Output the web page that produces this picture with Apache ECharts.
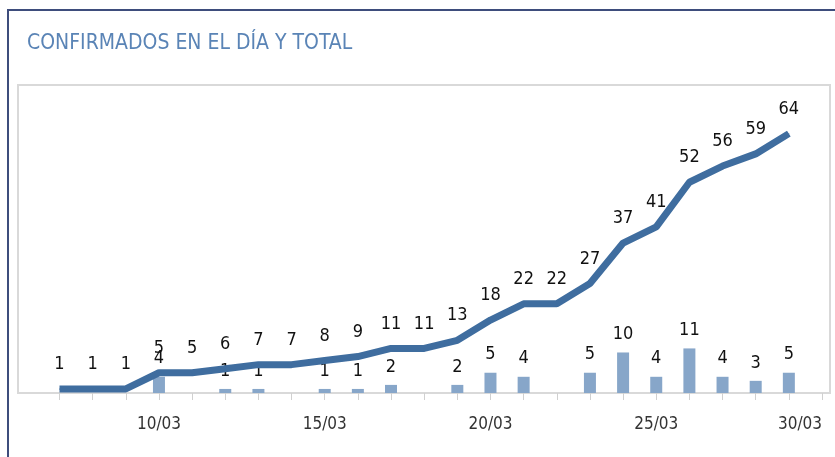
<!DOCTYPE html>
<html>
<head>
<meta charset="utf-8">
<script src="https://cdn.jsdelivr.net/npm/echarts@6/dist/echarts.min.js"></script>
<style>
  html, body { margin: 0; padding: 0; background: #fff; }
  #chart { width: 835px; height: 457px; }
</style>
</head>
<body>
<div id="chart"></div>
<script>
// dias 07/03 .. 30/03
const dias = ['07/03', '08/03', '09/03', '10/03', '11/03', '12/03', '13/03', '14/03', '15/03',
  '16/03', '17/03', '18/03', '19/03', '20/03', '21/03', '22/03', '23/03', '24/03', '25/03',
  '26/03', '27/03', '28/03', '29/03', '30/03'];
const total = [1, 1, 1, 5, 5, 6, 7, 7, 8, 9, 11, 11, 13, 18, 22, 22, 27, 37, 41, 52, 56, 59, 64, null];
const enElDia = [null, null, null, 4, null, 1, 1, null, 1, 1, 2, null, 2, 5, 4, null, 5, 10, 4, 11, 4, 3, 5, null];

const fuente = '"DejaVu Sans Condensed", sans-serif';

let instance = echarts.init(document.getElementById('chart'));
instance.setOption({
    animation: false,
    title: {
        text: 'CONFIRMADOS EN EL DÍA Y TOTAL',
        left: 22,
        top: 28,
        textStyle: {
            color: '#5a84b6',
            fontFamily: fuente,
            fontWeight: 'normal',
            fontSize: 21
        }
    },
    graphic: [
        {
            type: 'rect',
            shape: { x: 8, y: 10, width: 840, height: 460 },
            style: { fill: 'none', stroke: '#3e4d7c', lineWidth: 2 },
            silent: true
        },
        {
            type: 'rect',
            shape: { x: 18, y: 85, width: 812, height: 308 },
            style: { fill: 'none', stroke: '#d9d9d9', lineWidth: 2 },
            silent: true
        }
    ],
    grid: {
        left: 59.5,
        right: 13,
        top: 85,
        bottom: 64
    },
    xAxis: {
        type: 'category',
        data: dias,
        boundaryGap: false,
        axisLine: { show: false },
        axisTick: {
            show: true,
            interval: 0,
            length: 7,
            lineStyle: { color: '#d0d0d0', width: 1 }
        },
        axisLabel: {
            interval: (idx) => (idx - 3) % 5 === 0,
            alignMaxLabel: 'right',
            margin: 23,
            color: '#333',
            fontFamily: fuente,
            fontSize: 17
        }
    },
    yAxis: {
        type: 'value',
        min: 0,
        max: 76,
        show: false
    },
    series: [
        {
            name: 'En el día',
            type: 'bar',
            data: enElDia,
            barWidth: 12,
            itemStyle: { color: '#87a6c9' },
            label: {
                show: true,
                position: 'top',
                distance: 9,
                color: '#111',
                fontFamily: fuente,
                fontSize: 18
            }
        },
        {
            name: 'Total',
            type: 'line',
            data: total,
            symbol: 'circle',
            symbolSize: 1,
            showSymbol: true,
            itemStyle: { color: '#3f6d9f' },
            lineStyle: { color: '#3f6d9f', width: 7 },
            label: {
                show: true,
                position: 'top',
                distance: 15,
                color: '#111',
                fontFamily: fuente,
                fontSize: 18
            },
            labelLayout: { hideOverlap: false }
        }
    ]
});
</script>
</body>
</html>
